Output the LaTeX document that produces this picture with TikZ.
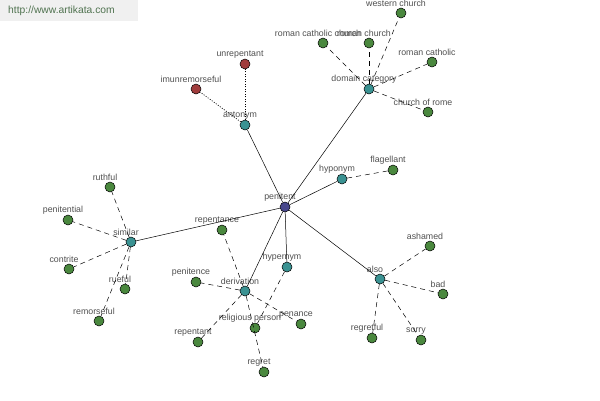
\documentclass[tikz,border=0pt]{standalone}
\usepackage{fontspec}
\setmainfont{Liberation Sans}
\definecolor{coreblue}{RGB}{72,72,140}
\definecolor{relteal}{RGB}{58,146,146}
\definecolor{leafgreen}{RGB}{74,136,62}
\definecolor{antired}{RGB}{160,60,60}
\definecolor{labelgray}{RGB}{80,80,80}
\definecolor{sitegreen}{RGB}{80,115,80}

\begin{document}
\begin{tikzpicture}[x=1pt, y=-1pt, every node/.style={draw, circle, inner sep=0pt, minimum size=10pt, line width=0.5pt},
    every label/.style={draw=none, rectangle, inner sep=0.5pt, minimum size=0pt, text=labelgray, font=\fontsize{8.8}{9}\selectfont, xshift=-5pt},
    core/.style={fill=coreblue}, rel/.style={fill=relteal}, leaf/.style={fill=leafgreen}, anti/.style={fill=antired},
    rellink/.style={line width=0.5pt}, dashlink/.style={line width=0.5pt, dash pattern=on 5pt off 4pt},
    antilink/.style={line width=0.7pt, dash pattern=on 1pt off 1.5pt}]
    \useasboundingbox (0,0) rectangle (600,400);
    \fill[white] (0,0) rectangle (600,400);
    \fill[gray!12] (0,0) rectangle (138,21);
    \node[draw=none, rectangle, anchor=west, inner sep=0pt, minimum size=0pt, text=sitegreen, font=\fontsize{10.3}{11}\selectfont] (site) at (8,10.5) {http://www.artikata.com};

    % centre and relations
    \node[core, label=above:penitent] (pen) at (285,207) {};
    \node[rel, label=above:antonym] (ant) at (245,125) {};
    \node[rel, label=above:domain category] (dom) at (369,89) {};
    \node[rel, label=above:hyponym] (hypo) at (342,179) {};
    \node[rel, label=above:similar] (sim) at (131,242) {};
    \node[rel, label=above:derivation] (der) at (245,291) {};
    \node[rel, label=above:hypernym] (hyper) at (287,267) {};
    \node[rel, label=above:also] (also) at (380,279) {};

    % antonyms
    \node[anti, label=above:unrepentant] (unrep) at (245,64) {};
    \node[anti, label=above:imunremorseful] (imun) at (196,89) {};

    % domain category
    \node[leaf, label=above:western church] (west) at (401,13) {};
    \node[leaf, label=above:roman catholic church] (rcc) at (323,43) {};
    \node[leaf, label=above:roman church] (rch) at (369,43) {};
    \node[leaf, label=above:roman catholic] (rca) at (432,62) {};
    \node[leaf, label=above:church of rome] (rome) at (428,112) {};

    % hyponym
    \node[leaf, label=above:flagellant] (flag) at (393,170) {};

    % similar
    \node[leaf, label=above:ruthful] (ruth) at (110,187) {};
    \node[leaf, label=above:penitential] (ptl) at (68,220) {};
    \node[leaf, label=above:contrite] (cont) at (69,269) {};
    \node[leaf, label=above:rueful] (rue) at (125,289) {};
    \node[leaf, label=above:remorseful] (rem) at (99,321) {};

    % derivation
    \node[leaf, label=above:repentance] (rpce) at (222,230) {};
    \node[leaf, label=above:penitence] (ptce) at (196,282) {};
    \node[leaf, label=above:repentant] (rpnt) at (198,342) {};
    \node[leaf, label=above:penance] (pnce) at (301,324) {};
    \node[leaf, label=above:regret] (regr) at (264,372) {};

    % hypernym
    \node[leaf, label=above:religious person] (relp) at (255,328) {};

    % also
    \node[leaf, label=above:ashamed] (asha) at (430,246) {};
    \node[leaf, label=above:bad] (bad) at (443,294) {};
    \node[leaf, label=above:regretful] (regf) at (372,338) {};
    \node[leaf, label=above:sorry] (sorry) at (421,340) {};

    \foreach \r in {ant, dom, hypo, sim, der, hyper, also}
        \draw[rellink] (pen) -- (\r);
    \foreach \a in {unrep, imun}
        \draw[antilink] (ant) -- (\a);
    \foreach \l in {west, rcc, rch, rca, rome}
        \draw[dashlink] (dom) -- (\l);
    \draw[dashlink] (hypo) -- (flag);
    \foreach \l in {ruth, ptl, cont, rue, rem}
        \draw[dashlink] (sim) -- (\l);
    \foreach \l in {rpce, ptce, rpnt, pnce, regr}
        \draw[dashlink] (der) -- (\l);
    \draw[dashlink] (hyper) -- (relp);
    \foreach \l in {asha, bad, regf, sorry}
        \draw[dashlink] (also) -- (\l);
\end{tikzpicture}
\end{document}
